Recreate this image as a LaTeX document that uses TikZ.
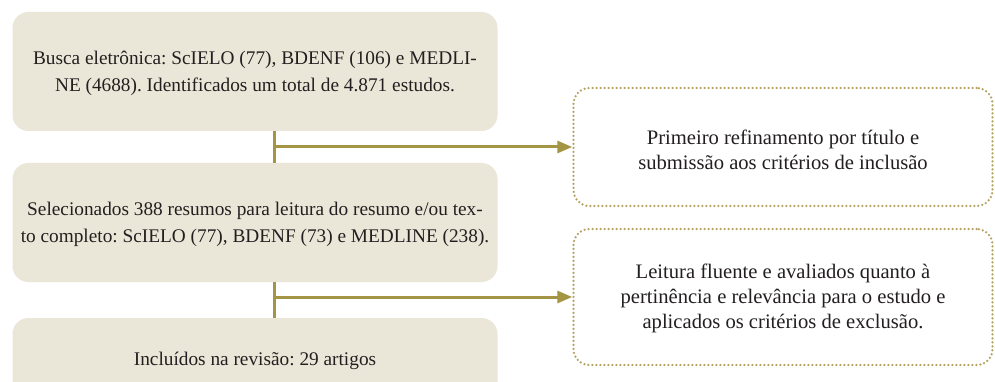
\documentclass[tikz,border=0pt]{standalone}
\usepackage{fontspec}
\setmainfont{Liberation Serif}
\usetikzlibrary{arrows.meta}
\definecolor{boxfill}{HTML}{EBE7D8}
\definecolor{olive}{HTML}{A39543}
\definecolor{dotcol}{HTML}{B4A260}
\definecolor{txtcol}{HTML}{231F20}
\tikzset{
  mainbox/.style={fill=boxfill, rounded corners=16pt, minimum width=485pt, inner sep=0pt},
  sidebox/.style={draw=dotcol, line width=2.5pt, dash pattern=on 0pt off 4pt, line cap=round, rounded corners=16pt, minimum width=419pt, inner sep=0pt},
  txt/.style={text=txtcol, align=center, font=\fontsize{19.3}{26.5}\selectfont\frenchspacing, inner sep=0pt},
  stxt/.style={text=txtcol, align=center, font=\fontsize{20.6}{25}\selectfont\frenchspacing, inner sep=0pt},
  conn/.style={draw=olive, line width=3pt},
  arr/.style={draw=olive, line width=3pt, -{Triangle[length=15pt,width=12pt]}},
}
\begin{document}
\begin{tikzpicture}[x=1pt,y=-1pt]
\clip (0,0) rectangle (995,382);
\fill[white] (0,0) rectangle (995,382);
% main boxes
\node[mainbox, minimum height=119pt] (b1) at (255,71.5) {};
\node[mainbox, minimum height=119pt] (b2) at (255,222.5) {};
\node[mainbox, minimum height=119pt] (b3) at (255,377.5) {};
\node[txt] (t1) at (255,73.5) {Busca eletrônica: ScIELO (77), BDENF (106) e MEDLI-\\NE (4688). Identificados um total de 4.871 estudos.};
\node[txt] (t2) at (255,224.5) {Selecionados 388 resumos para leitura do resumo e/ou tex-\\to completo: ScIELO (77), BDENF (73) e MEDLINE (238).};
\node[txt] (t3) at (255,361) {Incluídos na revisão: 29 artigos};
% side boxes
\node[sidebox, minimum height=118pt] (s1) at (783,147) {};
\node[sidebox, minimum height=136pt] (s2) at (783,297) {};
\node[stxt] (u1) at (783,149.5) {Primeiro refinamento por título e\\submissão aos critérios de inclusão};
\node[stxt] (u2) at (783,298) {Leitura fluente e avaliados quanto à\\pertinência e relevância para o estudo e\\aplicados os critérios de exclusão.};
% connectors
\coordinate (j1) at (274,147);
\coordinate (j2) at (274,297);
\draw[conn] (b1.south -| j1) -- (b2.north -| j1);
\draw[conn] (b2.south -| j2) -- (b3.north -| j2);
\draw[arr] (j1) -- (s1.west);
\draw[arr] (j2) -- (s2.west);
\end{tikzpicture}
\end{document}
